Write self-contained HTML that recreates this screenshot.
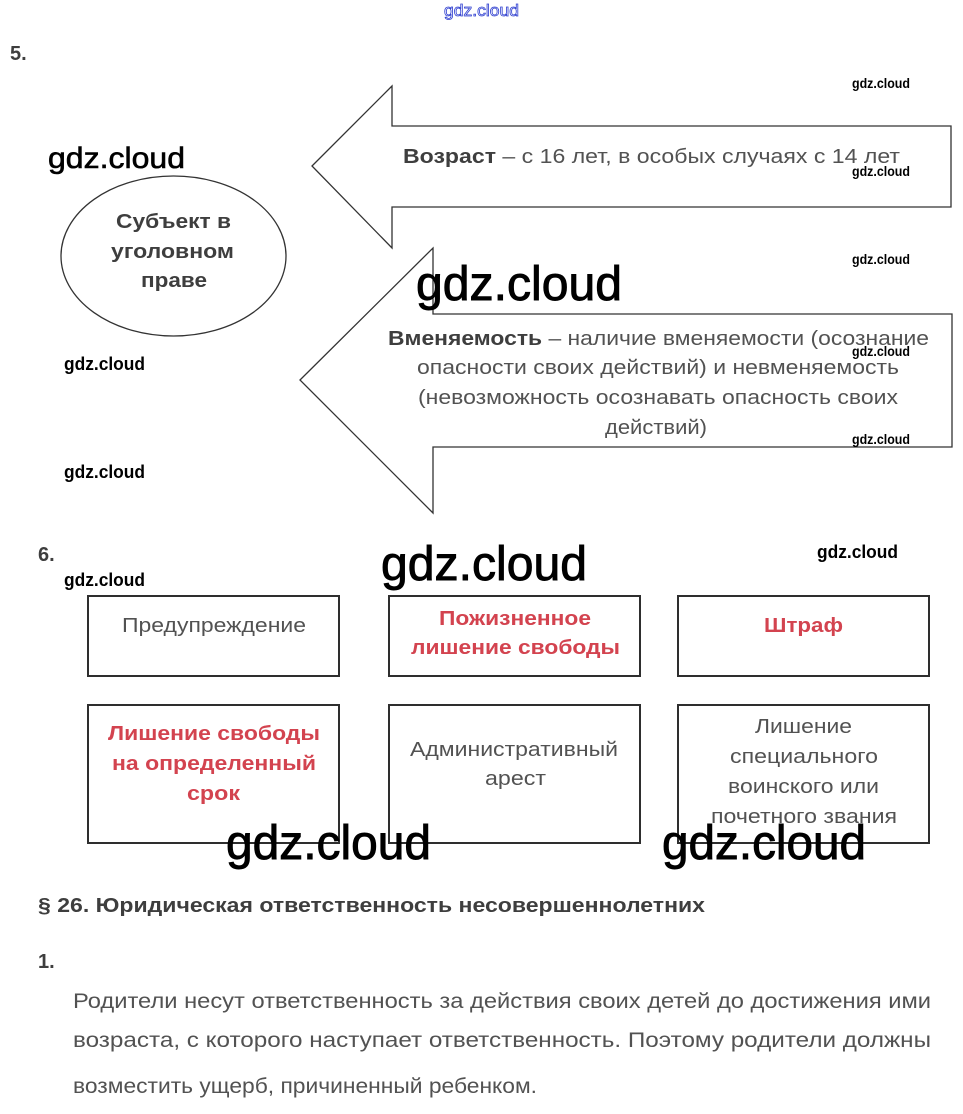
<!DOCTYPE html>
<html>
<head>
<meta charset="utf-8">
<style>
  html,body{margin:0;padding:0;background:#fff;}
  body{width:963px;height:1114px;overflow:hidden;}
  svg{display:block;}
  .t{font-family:"Liberation Sans","Noto Sans CJK SC",sans-serif;fill:#525252;}
  .b{font-weight:700;fill:#3e3e3e;}
  .r{font-weight:700;fill:#d3434f;}
  .w{font-family:"Liberation Sans",sans-serif;fill:#000;}
</style>
</head>
<body>
<svg width="963" height="1114" viewBox="0 0 963 1114" xmlns="http://www.w3.org/2000/svg">
  <rect width="963" height="1114" fill="#fff"/>

  <!-- top blue watermark -->
  <text x="444" y="16" class="w" font-size="17" stroke="#3040d0" stroke-width="0.8" textLength="75" lengthAdjust="spacingAndGlyphs" style="fill:#fff">gdz.cloud</text>

  <!-- 5. -->
  <text x="10" y="60" class="t b" font-size="20">5.</text>

  <!-- arrows -->
  <polygon points="312,166 392,86 392,126 951,126 951,207 392,207 392,248" fill="#fff" stroke="#333" stroke-width="1.3"/>
  <polygon points="300,380 433,248 433,314 952,314 952,447 433,447 433,513" fill="#fff" stroke="#333" stroke-width="1.3"/>

  <!-- ellipse -->
  <ellipse cx="173.5" cy="256" rx="112.5" ry="80" fill="#fff" stroke="#333" stroke-width="1.3"/>
  <text x="116" y="228" class="t b" font-size="20" textLength="115" lengthAdjust="spacingAndGlyphs">Субъект в</text>
  <text x="111" y="258" class="t b" font-size="20" textLength="123" lengthAdjust="spacingAndGlyphs">уголовном</text>
  <text x="141" y="287" class="t b" font-size="20" textLength="66" lengthAdjust="spacingAndGlyphs">праве</text>

  <!-- arrow 1 text -->
  <text x="403" y="163" class="t" font-size="20" textLength="497" lengthAdjust="spacingAndGlyphs"><tspan class="b">Возраст</tspan> – с 16 лет, в особых случаях с 14 лет</text>

  <!-- arrow 2 text -->
  <text x="388" y="345" class="t" font-size="20" textLength="541" lengthAdjust="spacingAndGlyphs"><tspan class="b">Вменяемость</tspan> – наличие вменяемости (осознание</text>
  <text x="417" y="374" class="t" font-size="20" textLength="482" lengthAdjust="spacingAndGlyphs">опасности своих действий) и невменяемость</text>
  <text x="418" y="404" class="t" font-size="20" textLength="480" lengthAdjust="spacingAndGlyphs">(невозможность осознавать опасность своих</text>
  <text x="605" y="434" class="t" font-size="20" textLength="102" lengthAdjust="spacingAndGlyphs">действий)</text>

  <!-- 6. -->
  <text x="38" y="561" class="t b" font-size="20">6.</text>

  <!-- boxes -->
  <g fill="#fff" stroke="#2e2e2e" stroke-width="2">
    <rect x="88" y="596" width="251" height="80"/>
    <rect x="389" y="596" width="251" height="80"/>
    <rect x="678" y="596" width="251" height="80"/>
    <rect x="88" y="705" width="251" height="138"/>
    <rect x="389" y="705" width="251" height="138"/>
    <rect x="678" y="705" width="251" height="138"/>
  </g>

  <text x="122" y="632" class="t" font-size="20" textLength="184" lengthAdjust="spacingAndGlyphs">Предупреждение</text>
  <text x="439" y="625" class="t r" font-size="20" textLength="152" lengthAdjust="spacingAndGlyphs">Пожизненное</text>
  <text x="411" y="654" class="t r" font-size="20" textLength="209" lengthAdjust="spacingAndGlyphs">лишение свободы</text>
  <text x="764" y="632" class="t r" font-size="20" textLength="79" lengthAdjust="spacingAndGlyphs">Штраф</text>

  <text x="108" y="740" class="t r" font-size="20" textLength="212" lengthAdjust="spacingAndGlyphs">Лишение свободы</text>
  <text x="112" y="770" class="t r" font-size="20" textLength="204" lengthAdjust="spacingAndGlyphs">на определенный</text>
  <text x="187" y="800" class="t r" font-size="20" textLength="53" lengthAdjust="spacingAndGlyphs">срок</text>

  <text x="410" y="756" class="t" font-size="20" textLength="208" lengthAdjust="spacingAndGlyphs">Административный</text>
  <text x="485" y="785" class="t" font-size="20" textLength="61" lengthAdjust="spacingAndGlyphs">арест</text>

  <text x="755" y="733" class="t" font-size="20" textLength="97" lengthAdjust="spacingAndGlyphs">Лишение</text>
  <text x="730" y="763" class="t" font-size="20" textLength="148" lengthAdjust="spacingAndGlyphs">специального</text>
  <text x="728" y="793" class="t" font-size="20" textLength="151" lengthAdjust="spacingAndGlyphs">воинского или</text>
  <text x="711" y="823" class="t" font-size="20" textLength="186" lengthAdjust="spacingAndGlyphs">почетного звания</text>

  <!-- heading & paragraph -->
  <text x="38" y="912" class="t b" font-size="20" textLength="667" lengthAdjust="spacingAndGlyphs">§ 26. Юридическая ответственность несовершеннолетних</text>
  <text x="38" y="968" class="t b" font-size="20">1.</text>
  <text x="73" y="1008" class="t" font-size="21" textLength="858" lengthAdjust="spacingAndGlyphs">Родители несут ответственность за действия своих детей до достижения ими</text>
  <text x="73" y="1047" class="t" font-size="21" textLength="858" lengthAdjust="spacingAndGlyphs">возраста, с которого наступает ответственность. Поэтому родители должны</text>
  <text x="73" y="1093" class="t" font-size="21" textLength="464" lengthAdjust="spacingAndGlyphs">возместить ущерб, причиненный ребенком.</text>

  <!-- watermarks small -->
  <g class="w" font-size="14" font-weight="700">
    <text x="852" y="88" textLength="58" lengthAdjust="spacingAndGlyphs">gdz.cloud</text>
    <text x="852" y="176" textLength="58" lengthAdjust="spacingAndGlyphs">gdz.cloud</text>
    <text x="852" y="264" textLength="58" lengthAdjust="spacingAndGlyphs">gdz.cloud</text>
    <text x="852" y="356" textLength="58" lengthAdjust="spacingAndGlyphs">gdz.cloud</text>
    <text x="852" y="444" textLength="58" lengthAdjust="spacingAndGlyphs">gdz.cloud</text>
  </g>
  <g class="w" font-size="18" font-weight="700">
    <text x="64" y="370" textLength="81" lengthAdjust="spacingAndGlyphs">gdz.cloud</text>
    <text x="64" y="478" textLength="81" lengthAdjust="spacingAndGlyphs">gdz.cloud</text>
    <text x="64" y="586" textLength="81" lengthAdjust="spacingAndGlyphs">gdz.cloud</text>
    <text x="817" y="558" textLength="81" lengthAdjust="spacingAndGlyphs">gdz.cloud</text>
  </g>
  <!-- medium -->
  <text x="48" y="168" class="w" font-size="30" stroke="#000" stroke-width="0.6" textLength="137" lengthAdjust="spacingAndGlyphs">gdz.cloud</text>
  <!-- large -->
  <g class="w" font-size="48" stroke="#000" stroke-width="0.9">
    <text x="416" y="300" textLength="206" lengthAdjust="spacingAndGlyphs">gdz.cloud</text>
    <text x="381" y="580" textLength="206" lengthAdjust="spacingAndGlyphs">gdz.cloud</text>
    <text x="226" y="859" textLength="205" lengthAdjust="spacingAndGlyphs">gdz.cloud</text>
    <text x="662" y="859" textLength="204" lengthAdjust="spacingAndGlyphs">gdz.cloud</text>
  </g>
</svg>
</body>
</html>
